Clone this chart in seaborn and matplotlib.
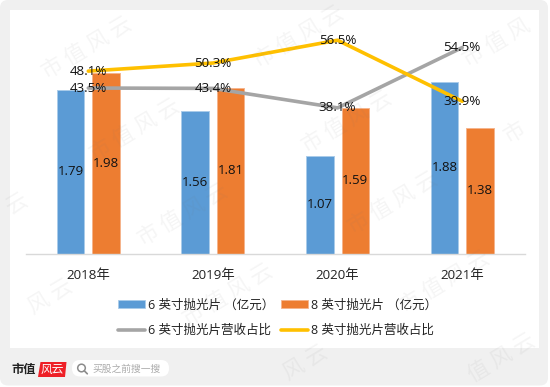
import matplotlib
matplotlib.use("Agg")
import matplotlib.pyplot as plt
from matplotlib.patches import FancyBboxPatch, Rectangle, Circle, Polygon
from matplotlib.lines import Line2D
import seaborn as sns
import pandas as pd

years = ["2018年", "2019年", "2020年", "2021年"]
wafer6 = [1.79, 1.56, 1.07, 1.88]
wafer8 = [1.98, 1.81, 1.59, 1.38]
share6 = [43.5, 43.4, 38.1, 54.5]
share8 = [48.1, 50.3, 56.5, 39.9]
name_b6 = "6 英寸抛光片 （亿元）"
name_b8 = "8 英寸抛光片 （亿元）"
name_l6 = "6 英寸抛光片营收占比"
name_l8 = "8 英寸抛光片营收占比"
C_BLUE, C_ORANGE, C_GRAY, C_YELLOW = "#5B9BD5", "#ED7D31", "#A5A5A5", "#FFC000"
EDGE_BLUE, EDGE_ORANGE = "#A9CBEA", "#F5B48C"

sns.set_theme(style="white")
plt.rcParams["font.family"] = ["Open Sans", "Noto Sans CJK SC", "DejaVu Sans"]

W, H = 550, 387
fig = plt.figure(figsize=(W / 100, H / 100), dpi=100, facecolor="white")

# backdrop in pixel coordinates: grey card, white panel, footer
bg = fig.add_axes([0, 0, 1, 1], zorder=-1)
bg.set_xlim(0, W)
bg.set_ylim(H, 0)
bg.axis("off")
bg.add_patch(FancyBboxPatch((0, 0), 548, 385.5, boxstyle="round,pad=0,rounding_size=8",
                            fc="#F0F0F0", ec="none"))
bg.add_patch(Rectangle((10, 10), 529, 338, fc="white", ec="none"))
bg.text(11, 369.5, "市值", fontsize=8.8, fontweight="bold", color="#222222",
        family=["Noto Sans CJK SC"], va="center", ha="left")
bg.add_patch(Polygon([(40.5, 362), (66.5, 362), (65, 377), (38, 377)], fc="#EE2027", ec="none"))
bg.text(52.5, 369.5, "风云", fontsize=8.5, color="white",
        family=["Noto Sans CJK SC"], va="center", ha="center")
bg.add_patch(FancyBboxPatch((72, 360), 97, 16.5, boxstyle="round,pad=0,rounding_size=8",
                            fc="white", ec="none"))
bg.add_patch(Circle((81.5, 368), 3.8, fc="none", ec="#8C8C8C", lw=1.1))
bg.plot([84.3, 87.3], [370.8, 373.8], color="#8C8C8C", lw=1.2)
bg.text(92, 369, "买股之前搜一搜", fontsize=7, color="#ABABAB",
        family=["Noto Sans CJK SC"], va="center", ha="left")

ax = fig.add_axes([26 / W, 1 - 253.5 / H, 498.5 / W, 233.5 / H])
ax.patch.set_alpha(0)
bars = pd.DataFrame({"year": years * 2,
                     "value": wafer6 + wafer8,
                     "series": [name_b6] * 4 + [name_b8] * 4})
sns.barplot(data=bars, x="year", y="value", hue="series", order=years,
            palette=[C_BLUE, C_ORANGE], saturation=1, width=0.57, gap=0.225, ax=ax,
            legend=False, edgecolor=EDGE_BLUE, linewidth=0.7, errorbar=None)
for p in ax.patches[4:]:
    p.set_edgecolor(EDGE_ORANGE)
ax.set_ylim(0, 2.56)
ax.set_xlim(-0.5, 3.5)
ax.set_xlabel("")
ax.set_ylabel("")
ax.set_yticks([])
ax.tick_params(axis="x", length=0, labelsize=9.6, pad=11.5, colors="#222222")
for s in ["top", "left", "right"]:
    ax.spines[s].set_visible(False)
ax.spines["bottom"].set_color("#D9D9D9")
ax.spines["bottom"].set_linewidth(1)

for cont in ax.containers:
    ax.bar_label(cont, fmt="%.2f", label_type="center", fontsize=9.5, color="#111111")

ax2 = ax.twinx()
ax2.patch.set_alpha(0)
lines = pd.DataFrame({"year": years * 2,
                      "value": share6 + share8,
                      "series": [name_l6] * 4 + [name_l8] * 4})
sns.lineplot(data=lines, x="year", y="value", hue="series",
             palette=[C_GRAY, C_YELLOW], linewidth=2.6, sort=False, ax=ax2,
             legend=False, errorbar=None)
ax2.set_ylim(-1.5, 62)
ax2.set_xlim(-0.5, 3.5)
ax2.set_yticks([])
ax2.set_ylabel("")
ax2.set_xlabel("")
for s in ax2.spines.values():
    s.set_visible(False)
for series in (share6, share8):
    for i, v in enumerate(series):
        ax2.text(i, v, f"{v:.1f}%", ha="center", va="center", fontsize=9.6, color="#111111", zorder=5)

handles = [Rectangle((0, 0), 1, 1, fc=C_BLUE, ec=EDGE_BLUE, lw=0.6),
           Line2D([], [], color=C_GRAY, lw=2.6),
           Rectangle((0, 0), 1, 1, fc=C_ORANGE, ec=EDGE_ORANGE, lw=0.6),
           Line2D([], [], color=C_YELLOW, lw=2.6)]
labels = [name_b6, name_l6, name_b8, name_l8]
fig.legend(handles, labels, ncol=2, loc="center", bbox_to_anchor=(277.5 / W, 1 - 317.5 / H),
           frameon=False, fontsize=9, handlelength=2.15, handleheight=0.55, handletextpad=0.25,
           columnspacing=0.55, labelspacing=0.98, labelcolor="#222222", borderpad=0)

# watermarks (only the characters that fall inside the picture)
marks = [("市 值 风 云", 87, 48), ("市 值 风 云", 135, 130), ("市 值 风 云", 299, 37),
         ("市 值 风 云", 347, 122), ("市 值 风", 497, 43), ("市", 515, 133),
         ("市 值 风 云", 183, 215), ("市 值 风 云", 393, 203), ("风 云", 50, 297),
         ("市 值 风 云", 228, 295), ("市 值 风 云", 445, 282), ("值 风 云", 502, 358),
         ("风 云", 305, 363), ("云", 17, 203)]
for txt, x, y in marks:
    fig.text(x / W, 1 - y / H, txt, rotation=31, ha="center", va="center", fontsize=15.5,
             color="#777777", alpha=0.07, family=["Noto Sans CJK SC"], zorder=20)

fig.savefig("out.png", dpi=100, facecolor=fig.get_facecolor())
